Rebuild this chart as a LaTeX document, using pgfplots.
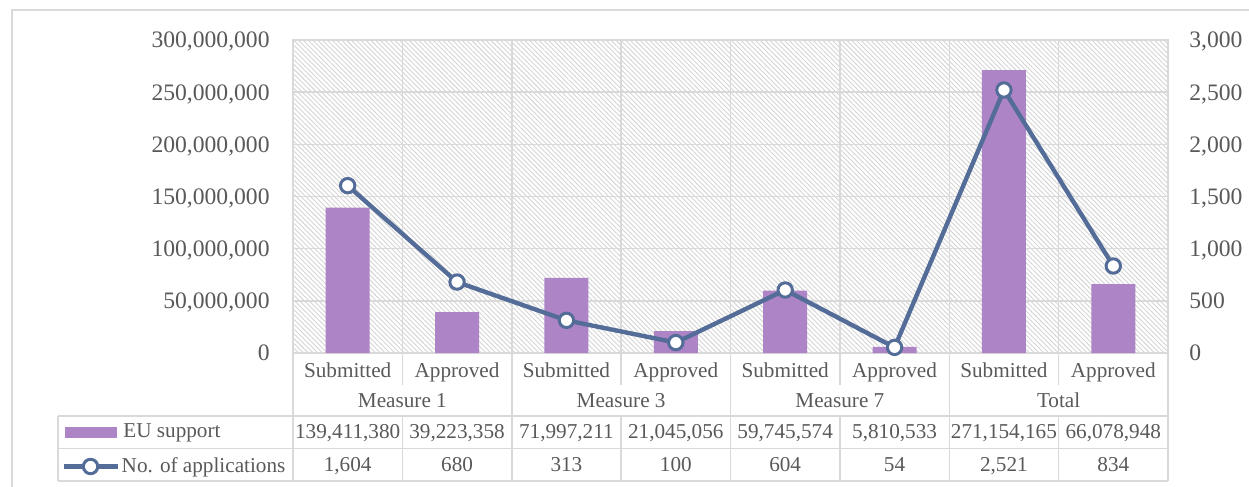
\documentclass[border=0pt]{standalone}
\usepackage{fontspec}
\setmainfont{Liberation Serif}
\usepackage{pgfplots}
\usepackage{pgfplotstable}
\pgfplotsset{compat=1.18}
\usetikzlibrary{patterns.meta}
\definecolor{barpurple}{RGB}{173,132,198}
\definecolor{lineblue}{RGB}{84,108,152}
\definecolor{gridgray}{RGB}{217,217,217}
\definecolor{hatch}{RGB}{212,212,212}
\definecolor{txt}{RGB}{89,89,89}
\newcommand\ticksize{\fontsize{11.8}{14}\selectfont}
\newcommand\tabsize{\fontsize{10.6}{13}\selectfont}

\pgfplotstableread{
x support apps
0 139411380 1604
1 39223358 680
2 71997211 313
3 21045056 100
4 59745574 604
5 5810533 54
6 271154165 2521
7 66078948 834
}\data

\pgfplotsset{
  common/.style={
    at={(146.5pt,-176.5pt)}, anchor=south west,
    scale only axis, width=437.5pt, height=156.5pt,
    xmin=-0.5, xmax=7.5,
    major tick length=0pt, minor tick length=0pt,
    legend style={draw=none, fill=none, inner sep=0pt, anchor=west,
      font=\tabsize, text=txt, nodes={inner sep=0pt}, column sep=3pt},
  },
}

\begin{document}
\begin{tikzpicture}
\useasboundingbox (0,0) rectangle (624.5pt,-243.5pt);

% frame and data table rules, in pixel units of the reference
\begin{scope}[x=0.5pt,y=-0.5pt,draw=gridgray,line width=0.75pt]
  \draw (12,487) -- (12,10) -- (1249,10);
  \draw (58,416) -- (1168,416) (58,448.5) -- (1168,448.5) (58,481) -- (1168,481);
  \draw (58,416) -- (58,481);
  \foreach \k in {0,...,8} \draw ({293+109.375*\k},416) -- ({293+109.375*\k},481);
  \foreach \k in {0,2,4,6,8} \draw ({293+109.375*\k},353) -- ({293+109.375*\k},416);
  \foreach \k in {1,3,5,7} \draw ({293+109.375*\k},353) -- ({293+109.375*\k},385);
\end{scope}

\begin{scope}[x=0.5pt,y=-0.5pt,every node/.style={text=txt,font=\tabsize,anchor=base,inner sep=0pt}]
  \foreach \g/\name in {0/Measure 1,1/Measure 3,2/Measure 7,3/Total}
    \node at ({293+109.375*(2*\g+1)},407) {\name};
  \foreach \k/\s/\a in {0/139{,}411{,}380/1{,}604, 1/39{,}223{,}358/680,
      2/71{,}997{,}211/313, 3/21{,}045{,}056/100, 4/59{,}745{,}574/604,
      5/5{,}810{,}533/54, 6/271{,}154{,}165/2{,}521, 7/66{,}078{,}948/834} {
    \node at ({293+109.375*(\k+0.5)},438) {\s};
    \node at ({293+109.375*(\k+0.5)},471) {\a};
  }
\end{scope}

\begin{axis}[common,
  ymin=0, ymax=300000000,
  xtick={0,...,7},
  xticklabels={Submitted,Approved,Submitted,Approved,Submitted,Approved,Submitted,Approved},
  xticklabel style={anchor=base, yshift=-12pt, font=\tabsize, text=txt},
  minor xtick={-0.5,0.5,1.5,2.5,3.5,4.5,5.5,6.5,7.5},
  xminorgrids, ymajorgrids,
  ytick={0,50000000,100000000,150000000,200000000,250000000,300000000},
  scaled y ticks=false,
  yticklabel style={/pgf/number format/fixed, /pgf/number format/precision=0,
    /pgf/number format/1000 sep={,}, /pgf/number format/assume math mode=true,
    font=\ticksize, text=txt, anchor=east, inner sep=0pt, xshift=-11.5pt, text depth=0pt},
  grid style={gridgray, line width=0.75pt},
  axis line style={gridgray, line width=0.75pt},
  axis background/.style={pattern={Lines[angle=-45,distance=1.7pt,line width=0.45pt]}, pattern color=hatch},
  legend style={at={(axis description cs:-0.2606,-0.2524)}},
  legend image code/.code={\fill[barpurple] (0pt,-2.75pt) rectangle (26pt,2.75pt);},
]
\addplot[ybar, bar width=22pt, fill=barpurple, draw=none] table[x=x,y=support]{\data};
\addlegendentry{EU support}
\end{axis}

\begin{axis}[common,
  ymin=0, ymax=3000,
  axis x line=none, axis y line*=right,
  axis line style={draw=none},
  ytick={0,500,1000,1500,2000,2500,3000},
  yticklabel style={/pgf/number format/1000 sep={,}, /pgf/number format/assume math mode=true,
    font=\ticksize, text=txt, anchor=west, inner sep=0pt, xshift=10.5pt, text depth=0pt},
  legend style={at={(axis description cs:-0.2652,-0.3626)}, column sep=1pt},
  legend image code/.code={\draw[mark repeat=2,mark phase=2,#1] plot coordinates {(0pt,0pt) (13.5pt,0pt) (27pt,0pt)};},
]
\addplot[lineblue, line width=2.2pt, mark=*, mark size=3.6pt,
  mark options={fill=white, draw=lineblue, line width=1.5pt}] table[x=x,y=apps]{\data};
\addlegendentry{No. of applications}
\end{axis}
\end{tikzpicture}
\end{document}
